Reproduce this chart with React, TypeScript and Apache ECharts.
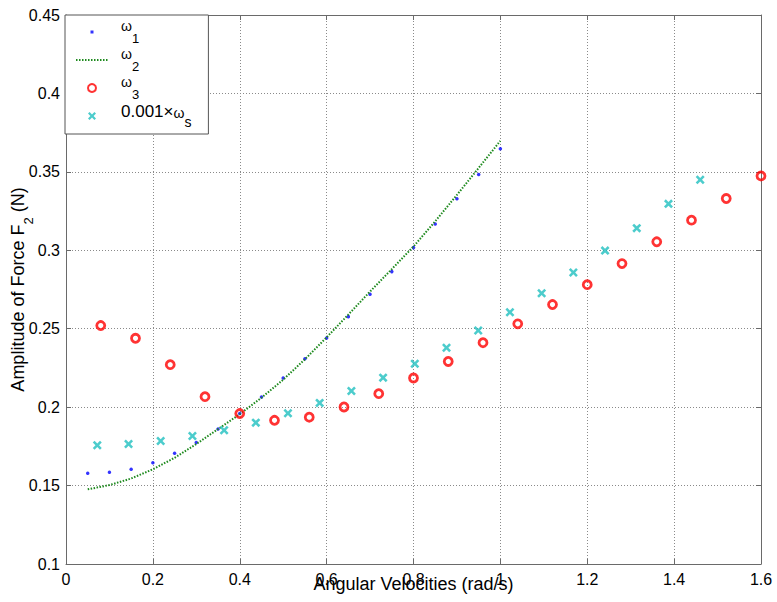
import React, { useEffect, useRef } from "react";
import * as echarts from "echarts";

const FONT = "'Liberation Sans', Arial, Helvetica, sans-serif";

// axis ranges / tick steps
const X_MIN = 0;
const X_MAX = 1.6;
const X_STEP = 0.2;
const Y_MIN = 0.1;
const Y_MAX = 0.45;
const Y_STEP = 0.05;

// ω1 (blue dots)
const w1X = [0.05, 0.1, 0.15, 0.2, 0.25, 0.3, 0.35, 0.4, 0.45, 0.5, 0.55, 0.6, 0.65, 0.7, 0.75, 0.8, 0.85, 0.9, 0.95, 1.0];
const w1Y = [0.1578, 0.1585, 0.1604, 0.1646, 0.1706, 0.1774, 0.1861, 0.1959, 0.2065, 0.2186, 0.2309, 0.2441, 0.2577, 0.272, 0.2864, 0.3017, 0.3168, 0.3328, 0.3483, 0.3647];

// ω2 (green dotted line)
const w2X = [0.05, 0.1, 0.15, 0.2, 0.25, 0.3, 0.35, 0.4, 0.45, 0.5, 0.55, 0.6, 0.65, 0.7, 0.75, 0.8, 0.85, 0.9, 0.95, 1.0];
const w2Y = [0.1476, 0.1503, 0.1545, 0.1604, 0.1677, 0.1765, 0.186, 0.1955, 0.206, 0.2175, 0.2305, 0.2445, 0.259, 0.2737, 0.288, 0.3024, 0.3185, 0.3353, 0.3525, 0.3698];

// ω3 (red circles)
const w3X = [0.08, 0.16, 0.24, 0.32, 0.4, 0.48, 0.56, 0.64, 0.72, 0.8, 0.88, 0.96, 1.04, 1.12, 1.2, 1.28, 1.36, 1.44, 1.52, 1.6];
const w3Y = [0.252, 0.2439, 0.2271, 0.2067, 0.1959, 0.1916, 0.1936, 0.2001, 0.2086, 0.2186, 0.2291, 0.2411, 0.2531, 0.2654, 0.2781, 0.2915, 0.3054, 0.3192, 0.333, 0.3474];

// 0.001×ωs (cyan crosses)
const wsX = [0.072, 0.144, 0.218, 0.291, 0.364, 0.437, 0.511, 0.584, 0.657, 0.73, 0.803, 0.876, 0.949, 1.022, 1.095, 1.168, 1.241, 1.314, 1.387, 1.46];
const wsY = [0.1757, 0.1765, 0.1784, 0.1816, 0.1853, 0.1901, 0.1961, 0.2027, 0.2103, 0.2188, 0.2277, 0.2379, 0.2489, 0.2605, 0.2726, 0.2858, 0.2998, 0.3141, 0.3296, 0.345];

const SERIES_NAMES = ["ω1", "ω2", "ω3", "0.001×ωs"];
const LEGEND_LABELS: Record<string, string> = {
  "ω1": "{g| }{w|ω}{s|1}",
  "ω2": "{g| }{w|ω}{s|2}",
  "ω3": "{g| }{w|ω}{s|3}",
  "0.001×ωs": "{g| }{n|0.001×}{w2|ω}{s2|s}",
};

const X_PATH = "path://M0,2L2,0L5,3L8,0L10,2L7,5L10,8L8,10L5,7L2,10L0,8L3,5Z";
const DOT_PATH = "path://M0,0M8,8M2.5,2.5L5.5,2.5L5.5,5.5L2.5,5.5Z";

const zip = (xs: number[], ys: number[]) => xs.map((x, i) => [x, ys[i]]);

const AXIS_COLOR = "#6a6a6a";

function makeAxis(kind: "x" | "y", main: boolean) {
  const isX = kind === "x";
  const base: any = {
    type: "value",
    min: isX ? X_MIN : Y_MIN,
    max: isX ? X_MAX : Y_MAX,
    interval: isX ? X_STEP : Y_STEP,
    position: isX ? (main ? "bottom" : "top") : main ? "left" : "right",
    axisLine: { show: true, onZero: false, lineStyle: { color: AXIS_COLOR, width: 1 } },
    axisTick: { show: true, inside: true, length: 5, lineStyle: { color: AXIS_COLOR } },
    axisLabel: {
      show: main,
      color: "#000",
      fontSize: 16,
      fontFamily: FONT,
      margin: isX ? 7 : 6,
    },
    splitLine: {
      show: main,
      lineStyle: { type: [1, 2], color: "#8a8a8a", width: 1 },
    },
  };
  if (main && isX) {
    base.name = "Angular Velocities (rad/s)";
    base.nameLocation = "middle";
    base.nameGap = 11;
    base.nameMoveOverlap = false;
    base.nameTextStyle = { fontSize: 18, color: "#000", fontFamily: FONT };
  }
  if (main && !isX) {
    base.name = "{m|Amplitude of Force F}{s|2}{m| (N)}";
    base.nameLocation = "middle";
    base.nameGap = 31;
    base.nameMoveOverlap = false;
    base.nameTextStyle = {
      fontFamily: FONT,
      rich: {
        m: { fontSize: 18, color: "#000", fontFamily: FONT, verticalAlign: "bottom", padding: [0, 0, 8, 0] },
        s: { fontSize: 13, color: "#000", fontFamily: FONT, verticalAlign: "bottom" },
      },
    };
  }
  return base;
}

export default function App() {
  const ref = useRef<HTMLDivElement>(null);
  useEffect(() => {
    if (!ref.current) return;
    const chart = echarts.init(ref.current, undefined, { renderer: "svg" });
    const option: any = {
      animation: false,
      backgroundColor: "#fff",
      textStyle: { fontFamily: FONT },
      grid: { left: 66, right: 16, top: 15, bottom: 38, containLabel: false, outerBoundsMode: "none" },
      legend: {
        show: true,
        orient: "vertical",
        left: 65,
        top: 15,
        itemWidth: 32,
        itemHeight: 8,
        itemGap: 2,
        padding: [4, 17, 5, 10],
        backgroundColor: "#fff",
        borderColor: "#555",
        borderWidth: 1,
        borderRadius: 0,
        selectedMode: false,
        data: [
          { name: SERIES_NAMES[0], icon: DOT_PATH },
          { name: SERIES_NAMES[1], itemStyle: { color: "rgba(0,0,0,0)", borderWidth: 0, opacity: 0 } },
          { name: SERIES_NAMES[2], icon: "circle" },
          { name: SERIES_NAMES[3], icon: X_PATH },
        ],
        formatter: (name: string) => LEGEND_LABELS[name] || name,
        textStyle: {
          fontFamily: FONT,
          color: "#000",
          rich: {
            g: { width: 8, fontSize: 10 },
            w: { fontSize: 14, color: "#000", fontFamily: FONT, verticalAlign: "bottom", padding: [0, 0, 12, 0] },
            s: { fontSize: 13, color: "#000", fontFamily: FONT, verticalAlign: "bottom" },
            n: { fontSize: 17, color: "#000", fontFamily: FONT, verticalAlign: "bottom", padding: [0, 0, 9, 0] },
            w2: { fontSize: 14, color: "#000", fontFamily: FONT, verticalAlign: "bottom", padding: [0, 0, 9, 0] },
            s2: { fontSize: 14, color: "#000", fontFamily: FONT, verticalAlign: "bottom" },
          },
        },
      },
      xAxis: [makeAxis("x", true), makeAxis("x", false)],
      yAxis: [makeAxis("y", true), makeAxis("y", false)],
      series: [
        {
          name: SERIES_NAMES[0],
          type: "scatter",
          data: zip(w1X, w1Y),
          symbol: "circle",
          symbolSize: 3.5,
          itemStyle: { color: "#0000ff" },
          z: 2,
        },
        {
          name: SERIES_NAMES[1],
          type: "line",
          data: zip(w2X, w2Y),
          symbol: "none",
          showSymbol: false,
          smooth: false,
          lineStyle: { color: "#1e8a1e", width: 2, type: [1.5, 1.5] },
          itemStyle: { color: "#1e8a1e" },
          z: 3,
        },
        {
          name: SERIES_NAMES[2],
          type: "scatter",
          data: zip(w3X, w3Y),
          symbol: "circle",
          symbolSize: 8,
          itemStyle: { color: "rgba(255,255,255,0)", borderColor: "#ff0000", borderWidth: 2.8 },
          z: 4,
        },
        {
          name: SERIES_NAMES[3],
          type: "scatter",
          data: zip(wsX, wsY),
          symbol: X_PATH,
          symbolSize: 9,
          itemStyle: { color: "#1fbfbf" },
          z: 5,
        },
      ],
    };
    chart.setOption(option);
    return () => chart.dispose();
  }, []);
  return (
    <div
      ref={ref}
      style={{ position: "fixed", left: 0, top: 0, width: 777, height: 602, background: "#fff" }}
    />
  );
}
